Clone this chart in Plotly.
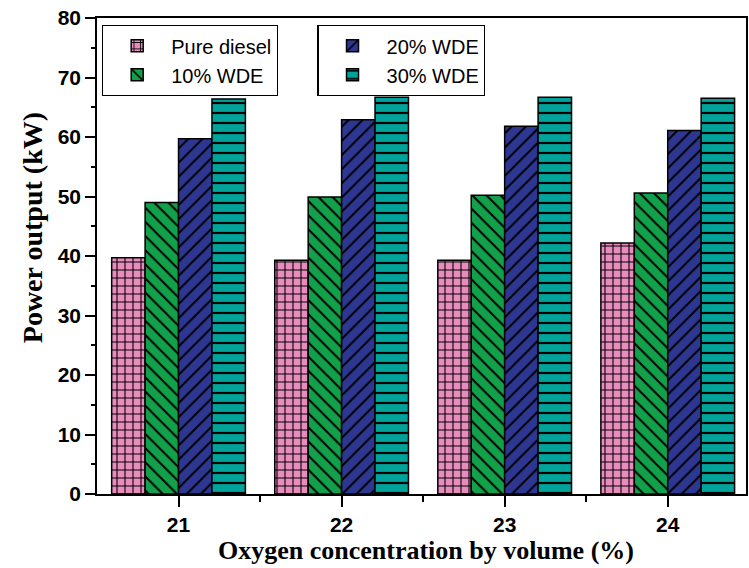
import plotly.graph_objects as go

categories = [21, 22, 23, 24]
series_names = ["Pure diesel", "10% WDE", "20% WDE", "30% WDE"]
pure_diesel = [39.7, 39.3, 39.3, 42.2]
wde_10 = [49.0, 49.9, 50.2, 50.6]
wde_20 = [59.7, 62.9, 61.8, 61.1]
wde_30 = [66.4, 66.7, 66.7, 66.5]
y_ticks = [0, 10, 20, 30, 40, 50, 60, 70, 80]

values = [pure_diesel, wde_10, wde_20, wde_30]
colors = ["#E88CBE", "#12A04A", "#2D3791", "#00A39A"]
shapes = ["+", "\\", "/", "-"]
sizes = [8, 10, 10, 10]
solid = [0.25, 0.2, 0.2, 0.22]
legends = ["legend", "legend", "legend2", "legend2"]

fig = go.Figure()
for name, vals, c, sh, sz, so, lg in zip(series_names, values, colors, shapes, sizes, solid, legends):
    fig.add_trace(go.Bar(
        x=categories, y=vals, name=name, legend=lg,
        marker=dict(color=c, line=dict(color="black", width=1.5),
                    pattern=dict(shape=sh, fgcolor="black", bgcolor=c,
                                 size=sz, solidity=so, fillmode="replace")),
    ))

W, H = 749, 568
L, R, T, B = 97, 1, 18, 74
pw, ph = W - L - R, H - T - B

def px_x(x):
    return (x - L) / pw

def px_y(y):
    return (H - B - y) / ph

tick_font = dict(family="Liberation Sans, Arial", size=21, color="black")
legend_font = dict(family="Liberation Sans, Arial", size=20, color="black")

fig.update_layout(
    width=W, height=H,
    margin=dict(l=L, r=R, t=T, b=B),
    paper_bgcolor="white", plot_bgcolor="white",
    barmode="group", bargap=0.18, bargroupgap=0,
    showlegend=True,
    legend=dict(x=px_x(102), y=px_y(25), xanchor="left", yanchor="top",
                bordercolor="black", borderwidth=1.2, bgcolor="rgba(255,255,255,0)",
                font=legend_font, tracegroupgap=0, itemwidth=58),
    legend2=dict(x=px_x(318), y=px_y(25), xanchor="left", yanchor="top",
                 bordercolor="black", borderwidth=1.2, bgcolor="rgba(255,255,255,0)",
                 font=legend_font, tracegroupgap=0, itemwidth=58),
    xaxis=dict(range=[20.5, 24.48], tickmode="array", tickvals=categories,
               ticktext=[f"<b>{c}</b>" for c in categories],
               ticks="outside", ticklen=11, tickwidth=1.5, tickcolor="black",
               minor=dict(tickmode="array", tickvals=[21.5, 22.5, 23.5],
                          ticks="outside", ticklen=6, tickwidth=1.5, tickcolor="black"),
               showline=True, linecolor="black", linewidth=1.5, mirror=True,
               showgrid=False, zeroline=False, tickfont=tick_font),
    yaxis=dict(range=[0, 80], tickmode="array", tickvals=y_ticks,
               ticktext=[f"<b>{t}</b>" for t in y_ticks],
               ticks="outside", ticklen=10, tickwidth=1.5, tickcolor="black",
               minor=dict(dtick=5, ticks="outside", ticklen=4, tickwidth=1.5, tickcolor="black"),
               showline=True, linecolor="black", linewidth=1.5, mirror=True,
               showgrid=False, zeroline=False, tickfont=tick_font),
    annotations=[
        dict(text="<b>Power output (kW)</b>", textangle=-90,
             xref="paper", yref="paper", x=px_x(32), y=px_y(228),
             xanchor="center", yanchor="middle", showarrow=False,
             font=dict(family="Liberation Serif, Times New Roman", size=28, color="black")),
        dict(text="<b>Oxygen concentration by volume (%)</b>",
             xref="paper", yref="paper", x=px_x(427), y=px_y(550),
             xanchor="center", yanchor="middle", showarrow=False,
             font=dict(family="Liberation Serif, Times New Roman", size=26, color="black")),
    ],
)

fig.write_html("out.html")
